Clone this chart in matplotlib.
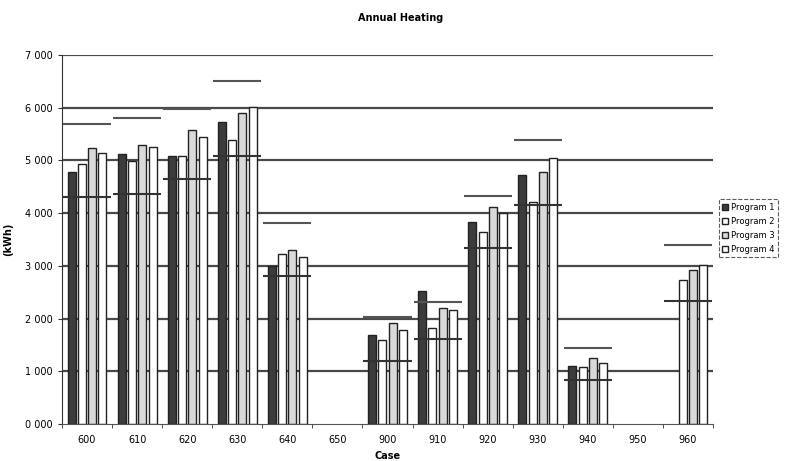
import numpy as np
import matplotlib
matplotlib.use("Agg")
import matplotlib.pyplot as plt
from matplotlib.patches import Patch

plt.rcParams['font.family'] = ['Liberation Sans Narrow', 'DejaVu Sans']

cases = ["600", "610", "620", "630", "640", "650", "900", "910", "920", "930", "940", "950", "960"]
program1 = [4780, 5120, 5080, 5720, 3000, np.nan, 1690, 2520, 3830, 4720, 1100, np.nan, np.nan]
program2 = [4930, 4980, 5080, 5380, 3220, np.nan, 1600, 1820, 3640, 4220, 1080, np.nan, 2740]
program3 = [5230, 5300, 5580, 5900, 3300, np.nan, 1910, 2200, 4120, 4780, 1250, np.nan, 2920]
program4 = [5150, 5260, 5450, 6020, 3160, np.nan, 1790, 2160, 4000, 5040, 1160, np.nan, 3020]
ref_max = [5700, 5800, 5980, 6500, 3820, np.nan, 2030, 2320, 4330, 5380, 1450, np.nan, 3400]
ref_min = [4300, 4370, 4650, 5080, 2800, np.nan, 1200, 1620, 3340, 4150, 830, np.nan, 2340]
yticks = [0, 1000, 2000, 3000, 4000, 5000, 6000, 7000]
ytick_labels = ["0 000", "1 000", "2 000", "3 000", "4 000", "5 000", "6 000", "7 000"]

fig = plt.figure(figsize=(7.85, 4.61), dpi=100)
ax = fig.add_axes([62/785, 37/461, 651/785, 369/461])

x = np.arange(len(cases))
w = 0.16
step = 0.205
series = [program1, program2, program3, program4]
colors = ["#3c3c3c", "#ffffff", "#d9d9d9", "#ffffff"]
names = ["Program 1", "Program 2", "Program 3", "Program 4"]
for i, (vals, c) in enumerate(zip(series, colors)):
    ax.bar(x + (i - 1.5) * step, vals, width=w, color=c, edgecolor="#222222",
           linewidth=1.0, zorder=2)

for i in range(len(cases)):
    if not np.isnan(ref_max[i]):
        ax.hlines(ref_max[i], x[i] - 0.48, x[i] + 0.48, color="#555555", lw=1.5, zorder=3)
        ax.hlines(ref_min[i], x[i] - 0.48, x[i] + 0.48, color="#333333", lw=1.5, zorder=3)

for yv in yticks[1:]:
    ax.axhline(yv, color="#4a4a4a", lw=1.6, zorder=1)

ax.set_xlim(-0.5, len(cases) - 0.5)
ax.set_ylim(0, 7000)
ax.set_yticks(yticks)
ax.set_yticklabels(ytick_labels, fontsize=7)
ax.set_xticks(x)
ax.set_xticklabels(cases, fontsize=7)
ax.set_xticks(np.arange(-0.5, len(cases)), minor=True)
ax.tick_params(axis='x', which='major', length=0, pad=8)
ax.tick_params(axis='x', which='minor', length=3, color="#333333")
ax.tick_params(axis='y', length=3, color="#333333", pad=4)
for s in ["top", "right"]:
    ax.spines[s].set_visible(False)
ax.spines["left"].set_color("#333333")
ax.spines["bottom"].set_color("#555555")

ax.set_ylabel("(kWh)", fontsize=7, fontweight="bold", labelpad=8)
ax.set_xlabel("Case", fontsize=7, fontweight="bold", labelpad=4)
fig.text(0.51, 0.96, "Annual Heating", ha="center", va="center", fontsize=7, fontweight="bold")

handles = [Patch(facecolor=c, edgecolor="#222222", label=n) for c, n in zip(colors, names)]
leg = fig.legend(handles=handles, loc="center left", bbox_to_anchor=(719/785, 0.505),
                 fontsize=6, frameon=True, fancybox=False, handlelength=0.7,
                 handleheight=0.7, handletextpad=0.3, borderpad=0.4, labelspacing=0.6,
                 borderaxespad=0.0)
leg.get_frame().set_edgecolor("#333333")
leg.get_frame().set_linestyle("--")
leg.get_frame().set_linewidth(0.8)

fig.savefig("out.png", dpi=100)
